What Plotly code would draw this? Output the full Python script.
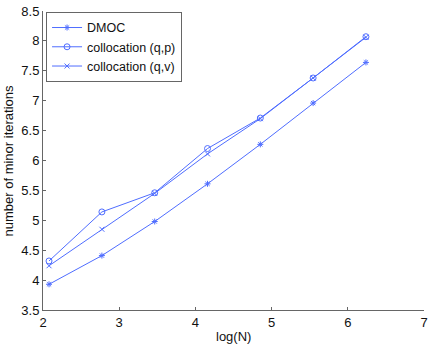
import plotly.graph_objects as go

x_logN = [2.079, 2.773, 3.466, 4.159, 4.852, 5.545, 6.238]
dmoc = [3.93, 4.41, 4.98, 5.61, 6.27, 6.96, 7.64]
coll_qp = [4.32, 5.14, 5.46, 6.20, 6.71, 7.38, 8.07]
coll_qv = [4.24, 4.85, 5.45, 6.11, 6.70, 7.38, 8.06]
x_ticks = [2, 3, 4, 5, 6, 7]
y_ticks = [3.5, 4, 4.5, 5, 5.5, 6, 6.5, 7, 7.5, 8, 8.5]

color = "#4f6dff"
FONT = "Liberation Sans, Arial"
fig = go.Figure()
fig.add_trace(go.Scatter(x=x_logN, y=dmoc, name="DMOC", mode="lines+markers",
                         line=dict(color=color, width=1),
                         marker=dict(symbol="asterisk-open", size=5, line=dict(color=color, width=1))))
fig.add_trace(go.Scatter(x=x_logN, y=coll_qp, name="collocation (q,p)", mode="lines+markers",
                         line=dict(color=color, width=1),
                         marker=dict(symbol="circle-open", size=6, color=color, line=dict(color=color, width=1))))
fig.add_trace(go.Scatter(x=x_logN, y=coll_qv, name="collocation (q,v)", mode="lines+markers",
                         line=dict(color=color, width=1),
                         marker=dict(symbol="x-thin-open", size=5, line=dict(color=color, width=1))))

axis_common = dict(showline=True, linecolor="#666", linewidth=1, ticks="inside", ticklen=3,
                   tickcolor="#666", showgrid=False, zeroline=False, mirror=False, automargin=False,
                   tickfont=dict(family=FONT, size=13, color="#111"))
fig.update_layout(
    width=432, height=345,
    margin=dict(l=43, r=8, t=11, b=35),
    paper_bgcolor="white", plot_bgcolor="white",
    font=dict(family=FONT, size=13, color="#111"),
    xaxis=dict(range=[2, 7], tickvals=x_ticks, ticktext=[str(v) for v in x_ticks], **axis_common),
    yaxis=dict(range=[3.5, 8.5], tickvals=y_ticks, ticktext=[f"{v:g}" for v in y_ticks], **axis_common),
    legend=dict(x=0.008, y=0.997, xanchor="left", yanchor="top", bgcolor="white",
                bordercolor="#666", borderwidth=1, font=dict(size=12.5), itemwidth=30,
                tracegroupgap=0),
    showlegend=True,
    annotations=[
        dict(text="log(N)", xref="paper", yref="paper", x=0.5, y=0, yshift=-26,
             xanchor="center", yanchor="middle", showarrow=False, font=dict(size=13)),
        dict(text="number of minor iterations", xref="paper", yref="paper", x=0, y=0.5,
             xshift=-35, textangle=-90, xanchor="center", yanchor="middle", showarrow=False,
             font=dict(size=13)),
    ],
)
fig.write_html("out.html", config={"displayModeBar": False},
               post_script="document.body.style.margin='0';document.body.style.padding='0';")
